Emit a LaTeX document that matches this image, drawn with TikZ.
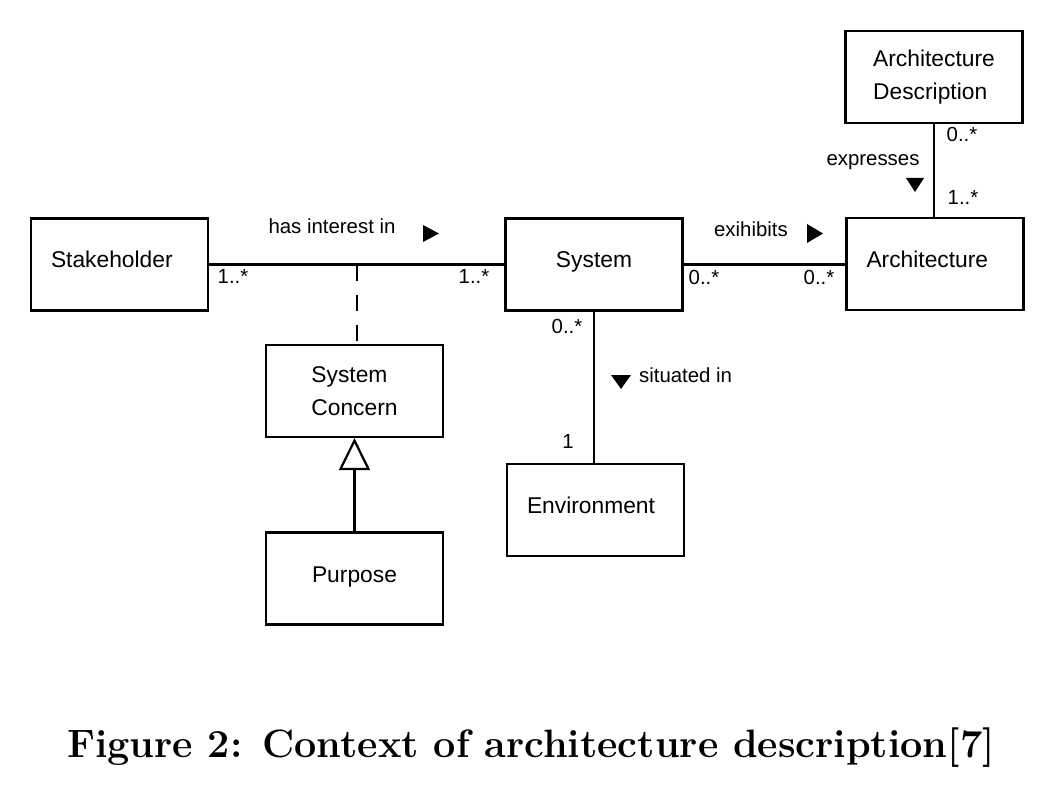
\documentclass[tikz,border=0pt]{standalone}
\usepackage{fontspec}
\setsansfont{Liberation Sans}
\usetikzlibrary{arrows.meta, positioning, calc}

\begin{document}
\begin{tikzpicture}[x=0.5pt, y=-0.5pt, line width=1.1pt,
  umlbox/.style={draw, minimum width=88.5pt, minimum height=46pt, inner sep=0pt,
    font=\fontsize{11.4}{16.5}\selectfont\sffamily, text height=8.5pt, text depth=5pt},
  leftbox/.style={umlbox, text width=68.5pt, align=left},
  twobox/.style={draw, minimum width=88.5pt, minimum height=46pt, inner sep=0pt,
    align=left, font=\fontsize{11.4}{16.5}\selectfont\sffamily},
  lbl/.style={font=\fontsize{10.2}{12}\selectfont\sffamily, inner sep=0pt, anchor=base}]
\useasboundingbox (0,0) rectangle (1056,792);

% Classes
\node[leftbox] (stake) at (119.5,264.5) {Stakeholder};
\node[umlbox] (sys) at (594,264.5) {System};
\node[leftbox] (arch) at (935,264) {Architecture};
\node[twobox] (archdesc) at (934,77) {Architecture\\Description};
\node[twobox] (concern) at (354.5,391) {System\\Concern};
\node[umlbox] (purpose) at (354.5,578.5) {Purpose};
\node[leftbox] (env) at (595.5,510) {Environment};

% Associations
\draw (stake.east) -- (sys.west);
\draw (sys.east) -- (sys.east -| arch.west);
\draw (archdesc.south) -- (archdesc.south |- arch.north);
\draw (sys.south) -- (sys.south |- env.north);
\draw[-{Triangle[open,length=16pt,width=15.5pt]}] (purpose.north) -- (concern.south);
\coordinate (mid) at ($(stake.east)!0.5!(sys.west)$);
\draw[dash pattern=on 8pt off 7pt] (mid) -- (mid |- concern.north);

% Reading directions
\fill (423,225) -- (439,233.5) -- (423,242) -- cycle;
\fill (807,224) -- (823,233.5) -- (807,243) -- cycle;
\fill (906,178) -- (924,178) -- (915,192) -- cycle;
\fill (611,375) -- (631,375) -- (621,389) -- cycle;

% Association labels
\node[lbl] (hasint) at (332,234) {has interest in};
\node[lbl] (exhib) at (751,236) {exihibits};
\node[lbl] (expr) at (873,166) {expresses};
\node[lbl, anchor=base west] (situ) at (638,382) {situated in};

% Multiplicities
\node[lbl] (m1) at (233,284) {1..*};
\node[lbl] (m2) at (474,284) {1..*};
\node[lbl] (m3) at (704,285) {0..*};
\node[lbl] (m4) at (819,285) {0..*};
\node[lbl] (m5) at (962,142) {0..*};
\node[lbl] (m6) at (963,205) {1..*};
\node[lbl] (m7) at (567,333) {0..*};
\node[lbl] (m8) at (568,448) {1};

% Caption
\node[anchor=base, inner sep=0pt, font=\fontsize{19.8}{24}\selectfont\bfseries] (cap)
  at (531,757) {Figure 2: Context of architecture description[7]};
\end{tikzpicture}
\end{document}
